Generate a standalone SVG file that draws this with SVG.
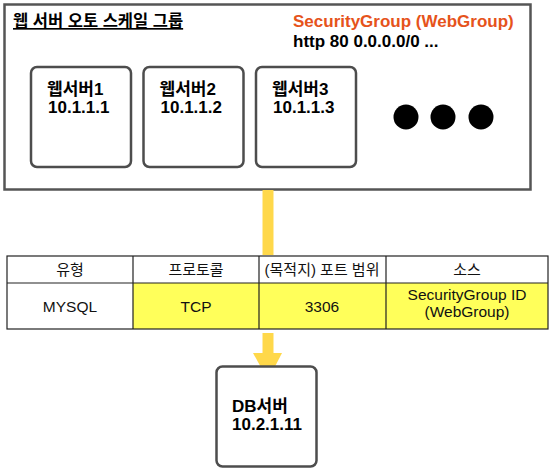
<svg xmlns="http://www.w3.org/2000/svg" width="553" height="474" viewBox="0 0 553 474">
<style>
.box{fill:#fff;stroke:#555;stroke-width:2.5}
.srv{fill:#fff;stroke:#4d4d4d;stroke-width:2.5}
.b{font-family:"Liberation Sans","Noto Sans CJK KR",Arial,sans-serif;font-weight:bold;fill:#000}
.t{font-family:"Liberation Sans","Noto Sans CJK KR",Arial,sans-serif;fill:#111}
.cell{stroke:#222;stroke-width:1.2}
.yel{fill:#ffff5a}
.conn{stroke:#ffd84a;stroke-width:11;fill:none}
</style>
<g id="autoscale-group">
<rect class="box" x="4.5" y="4.5" width="526" height="185"/>
<text class="b" x="13" y="27" font-size="16.5" text-decoration="underline">웹 서버 오토 스케일 그룹</text>
<text class="b" x="293" y="27" font-size="17" style="fill:#e6531b">SecurityGroup (WebGroup)</text>
<text class="b" x="293" y="47" font-size="17">http 80 0.0.0.0/0 ...</text>
</g>
<g id="web1">
<rect class="srv" x="31" y="67" width="100" height="100" rx="6"/>
<text class="b" x="47" y="95" font-size="17">웹서버1</text>
<text class="b" x="48" y="113" font-size="17">10.1.1.1</text>
</g>
<g id="web2">
<rect class="srv" x="143.5" y="67" width="100" height="100" rx="6"/>
<text class="b" x="159.5" y="95" font-size="17">웹서버2</text>
<text class="b" x="160.5" y="113" font-size="17">10.1.1.2</text>
</g>
<g id="web3">
<rect class="srv" x="256" y="67" width="100" height="100" rx="6"/>
<text class="b" x="272" y="95" font-size="17">웹서버3</text>
<text class="b" x="273" y="113" font-size="17">10.1.1.3</text>
</g>
<g id="more">
<circle cx="406" cy="117" r="12.5" fill="#000"/>
<circle cx="443" cy="117" r="12.5" fill="#000"/>
<circle cx="481" cy="117" r="12.5" fill="#000"/>
</g>
<g id="connectors">
<path class="conn" d="M268 190V255"/>
<path class="conn" d="M268 333V354"/>
<polygon points="253,353 282,353 268,380" fill="#ffd84a"/>
</g>
<g id="rule-table">
<rect x="7" y="256" width="541" height="73" fill="#fff"/>
<rect class="yel" x="133" y="283" width="415" height="46"/>
<g class="cell" fill="none">
<rect x="7" y="256" width="541" height="73"/>
<path d="M7 283H548M133 256V329M259 256V329M386 256V329"/>
</g>
<g class="t" text-anchor="middle" font-size="15">
<text x="70" y="275">유형</text>
<text x="196" y="275">프로토콜</text>
<text x="322" y="275">(목적지) 포트 범위</text>
<text x="467" y="275">소스</text>
</g>
<g class="t" text-anchor="middle" font-size="15.5">
<text x="70" y="312">MYSQL</text>
<text x="196" y="312">TCP</text>
<text x="322" y="312">3306</text>
<text x="467" y="300">SecurityGroup ID</text>
<text x="467" y="317">(WebGroup)</text>
</g>
</g>
<g id="db">
<rect class="srv" x="216.5" y="366.5" width="100" height="100" rx="6"/>
<text class="b" x="232" y="412" font-size="17">DB서버</text>
<text class="b" x="232" y="430" font-size="17">10.2.1.11</text>
</g>
</svg>
